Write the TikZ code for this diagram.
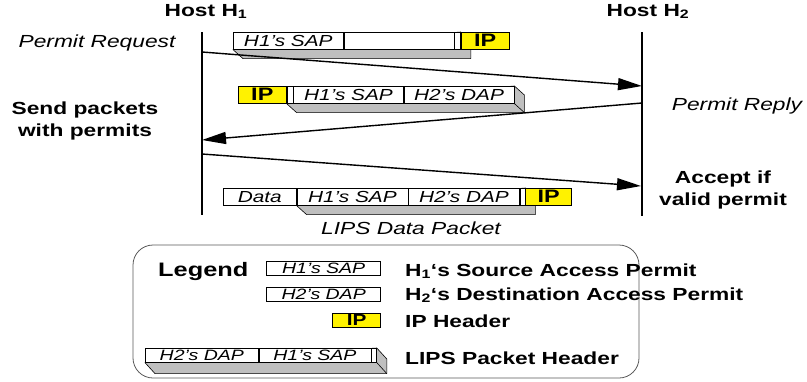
\documentclass[tikz,border=0pt]{standalone}
\usepackage{fontspec}
\setmainfont{Liberation Sans}[FakeStretch=1.3]
\usepackage{tikz}
\usetikzlibrary{arrows.meta, positioning, backgrounds}

\begin{document}
\begin{tikzpicture} [x = 1pt, y = -1pt,
          every node/.style = {inner sep = 0pt},
          lifeline/.style = {line width = 2pt},
          msg/.style = {-{Triangle[length = 24pt, width = 12pt]}, line width = 1.4pt},
          field/.style = {draw, fill = white, line width = 0.6pt,
              minimum height = 17pt, minimum width = 110pt,
              font = \fontsize{16}{16}\selectfont\itshape},
          ipfield/.style = {field, fill = yellow, minimum width = 48pt,
              font = \fontsize{18}{18}\selectfont\bfseries},
          capfield/.style = {field, minimum width = 6pt},
          keyfield/.style = {field, minimum height = 14pt, minimum width = 114pt,
              font = \fontsize{15}{15}\selectfont\itshape},
          shade/.style = {draw, fill = black!25, line width = 0.6pt, line join = round},
          bold/.style = {font = \fontsize{17.5}{22}\selectfont\bfseries, align = center},
          slant/.style = {font = \fontsize{17.5}{22}\selectfont\itshape},
          keytext/.style = {font = \fontsize{17.5}{22}\selectfont\bfseries, anchor = base west}
          ]

          \useasboundingbox (0,0) rectangle (807,381);

          % Hosts
          \node (host1) [bold, anchor = base] at (206,16) {Host H\textsubscript{1}};
          \node (host2) [bold, anchor = base] at (648,16) {Host H\textsubscript{2}};
          \coordinate (h1top) at (202,32);
          \coordinate (h1bot) at (202,215);
          \coordinate (h2top) at (642,32);
          \coordinate (h2bot) at (642,216);
          \draw [lifeline] (h1top) -- (h1bot);
          \draw [lifeline] (h2top) -- (h2bot);

          % Side labels
          \node (req) [slant, anchor = base] at (97,47) {Permit Request};
          \node (rep) [slant, anchor = base] at (737,110) {Permit Reply};
          \node (send) [bold, anchor = base] at (85,136) {Send packets\\with permits};
          \node (accept) [bold, anchor = base] at (723,205) {Accept if\\valid permit};

          % Messages
          \coordinate (req-s) at (202,52);
          \coordinate (req-e) at (642,86);
          \coordinate (rep-s) at (642,103);
          \coordinate (rep-e) at (202,140);
          \coordinate (dat-s) at (202,154);
          \coordinate (dat-e) at (641,186);
          \draw [msg] (req-s) -- (req-e);
          \draw [msg] (rep-s) -- (rep-e);
          \draw [msg] (dat-s) -- (dat-e);

          % Request packet
          \node (p1sap) [field, anchor = north west] at (233,32) {H1's SAP};
          \node (p1gap) [field, right = 0pt of p1sap] {};
          \node (p1cap) [capfield, right = 0pt of p1gap] {};
          \node (p1ip) [ipfield, right = 0pt of p1cap] {IP};

          % Reply packet
          \node (p2ip) [ipfield, anchor = north west] at (238,86) {IP};
          \node (p2cap) [capfield, right = 0pt of p2ip] {};
          \node (p2sap) [field, right = 0pt of p2cap] {H1's SAP};
          \node (p2dap) [field, right = 0pt of p2sap] {H2's DAP};

          % Data packet
          \node (p3data) [field, minimum width = 73pt, anchor = north west] at (223,188) {Data};
          \node (p3sap) [field, minimum width = 111pt, right = 0pt of p3data] {H1's SAP};
          \node (p3dap) [field, minimum width = 111pt, right = 0pt of p3sap] {H2's DAP};
          \node (p3cap) [capfield, minimum width = 5pt, right = 0pt of p3dap] {};
          \node (p3ip) [ipfield, minimum width = 46pt, right = 0pt of p3cap] {IP};
          \node (p3name) [slant, anchor = base] at (411,234) {LIPS Data Packet};

          % Legend
          \draw [rounded corners = 20pt, line width = 0.8pt, draw = black!65] (133,245) rectangle (639,378);
          \node (legend) [font = \fontsize{19.5}{22}\selectfont\bfseries, anchor = base west] at (158,276) {Legend};
          \node (keysap) [keyfield, anchor = north east] at (381,261) {H1's SAP};
          \node (keydap) [keyfield, anchor = north east] at (381,287) {H2's DAP};
          \node (keyip) [ipfield, minimum height = 14pt, anchor = north east,
              font = \fontsize{16}{16}\selectfont\bfseries] at (381,313) {IP};
          \node (hdrdap) [keyfield, minimum width = 113pt, anchor = north west] at (145,348) {H2's DAP};
          \node (hdrsap) [keyfield, minimum width = 112pt, right = 0pt of hdrdap] {H1's SAP};
          \node (hdrcap) [capfield, minimum height = 14pt, minimum width = 5pt, right = 0pt of hdrsap] {};

          \node (txtsap) [keytext] at (405,276) {H\textsubscript{1}‘s Source Access Permit};
          \node (txtdap) [keytext] at (405,300) {H\textsubscript{2}‘s Destination Access Permit};
          \node (txtip) [keytext] at (405,327) {IP Header};
          \node (txthdr) [keytext] at (405,364) {LIPS Packet Header};

          % Shadows
          \begin{scope}[on background layer]
            \draw [shade] (p1sap.south west) -- ++(10,9) -- ([shift = {(10,9)}]p1cap.south east)
              -- ([shift = {(10,9)}]p1cap.north east) -- (p1cap.north east) -- cycle;
            \draw [shade] (p2cap.south west) -- ++(10,9) -- ([shift = {(10,9)}]p2dap.south east)
              -- ([shift = {(10,9)}]p2dap.north east) -- (p2dap.north east) -- cycle;
            \draw [shade] (p3sap.south west) -- ++(10,9) -- ([shift = {(10,9)}]p3cap.south east)
              -- ([shift = {(10,9)}]p3cap.north east) -- (p3cap.north east) -- cycle;
            \draw [shade] (hdrdap.south west) -- ++(10,11) -- ([shift = {(10,11)}]hdrcap.south east)
              -- ([shift = {(10,11)}]hdrcap.north east) -- (hdrcap.north east) -- cycle;
          \end{scope}
          \draw [line width = 0.6pt] (p2dap.south east) -- ++(10,9);
          \draw [line width = 0.6pt] (hdrcap.south east) -- ++(10,11);

\end{tikzpicture}
\end{document}
